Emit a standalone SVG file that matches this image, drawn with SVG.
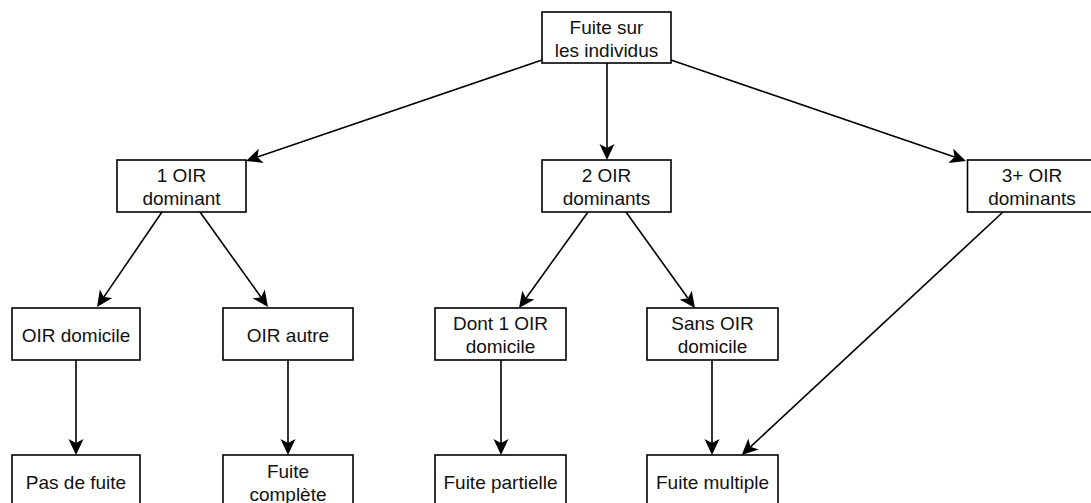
<svg xmlns="http://www.w3.org/2000/svg" width="1091" height="503" viewBox="0 0 1091 503">
<style>
.box{fill:#fff;stroke:#000;stroke-width:1.6}
.t{font-family:"Liberation Sans",Arial,Helvetica,sans-serif;font-size:19px;fill:#111;text-anchor:middle}
.c{fill:none;stroke:#000;stroke-width:1.6;marker-end:url(#arr)}
</style>
<defs>
<marker id="arr" markerUnits="userSpaceOnUse" markerWidth="18" markerHeight="16" viewBox="0 0 18 16" refX="5" refY="8" orient="auto">
<path d="M1,0.5 L17,8 L1,15.5 L5,8 Z" fill="#000"/>
</marker>
</defs>
<rect width="1091" height="503" fill="#fff"/>
<g id="connectors">
<line class="c" x1="542" y1="60" x2="257.4" y2="157.1"/>
<line class="c" x1="607" y1="63" x2="607" y2="148"/>
<line class="c" x1="671" y1="60" x2="954.6" y2="157.1"/>
<line class="c" x1="162" y1="212" x2="103.8" y2="297.1"/>
<line class="c" x1="200" y1="212" x2="261" y2="297.2"/>
<line class="c" x1="588" y1="212" x2="526" y2="298.3"/>
<line class="c" x1="626" y1="212" x2="688" y2="298.3"/>
<line class="c" x1="1003" y1="212" x2="750.5" y2="446.8"/>
<line class="c" x1="76" y1="360" x2="76" y2="443"/>
<line class="c" x1="288" y1="360" x2="288" y2="443"/>
<line class="c" x1="501" y1="360" x2="501" y2="443"/>
<line class="c" x1="712" y1="360" x2="712" y2="443"/>
</g>
<g id="root"><rect class="box" x="542" y="12" width="129" height="51"/><text class="t" x="606.5" y="34">Fuite sur</text><text class="t" x="606.5" y="57">les individus</text></g>
<g id="n1"><rect class="box" x="117" y="160" width="129" height="52"/><text class="t" x="181.5" y="182">1 OIR</text><text class="t" x="181.5" y="205">dominant</text></g>
<g id="n2"><rect class="box" x="542" y="160" width="129" height="52"/><text class="t" x="606.5" y="182">2 OIR</text><text class="t" x="606.5" y="205">dominants</text></g>
<g id="n3"><rect class="box" x="967.5" y="160" width="129" height="52"/><text class="t" x="1032" y="182">3+ OIR</text><text class="t" x="1032" y="205">dominants</text></g>
<g id="oirdom"><rect class="box" x="12" y="308" width="128" height="52"/><text class="t" x="76" y="341.5">OIR domicile</text></g>
<g id="oirautre"><rect class="box" x="223" y="308" width="130" height="52"/><text class="t" x="288" y="341.5">OIR autre</text></g>
<g id="dont1"><rect class="box" x="435" y="308" width="131" height="52"/><text class="t" x="500.5" y="330">Dont 1 OIR</text><text class="t" x="500.5" y="353">domicile</text></g>
<g id="sans"><rect class="box" x="647" y="308" width="131" height="52"/><text class="t" x="712.5" y="330">Sans OIR</text><text class="t" x="712.5" y="353">domicile</text></g>
<g id="pasfuite"><rect class="box" x="12" y="455" width="128" height="52"/><text class="t" x="76" y="489">Pas de fuite</text></g>
<g id="complete"><rect class="box" x="223" y="455" width="130" height="52"/><text class="t" x="288" y="478">Fuite</text><text class="t" x="288" y="500.5">complète</text></g>
<g id="partielle"><rect class="box" x="435" y="455" width="131" height="52"/><text class="t" x="500.5" y="489">Fuite partielle</text></g>
<g id="multiple"><rect class="box" x="647" y="455" width="131" height="52"/><text class="t" x="712.5" y="489">Fuite multiple</text></g>
</svg>
